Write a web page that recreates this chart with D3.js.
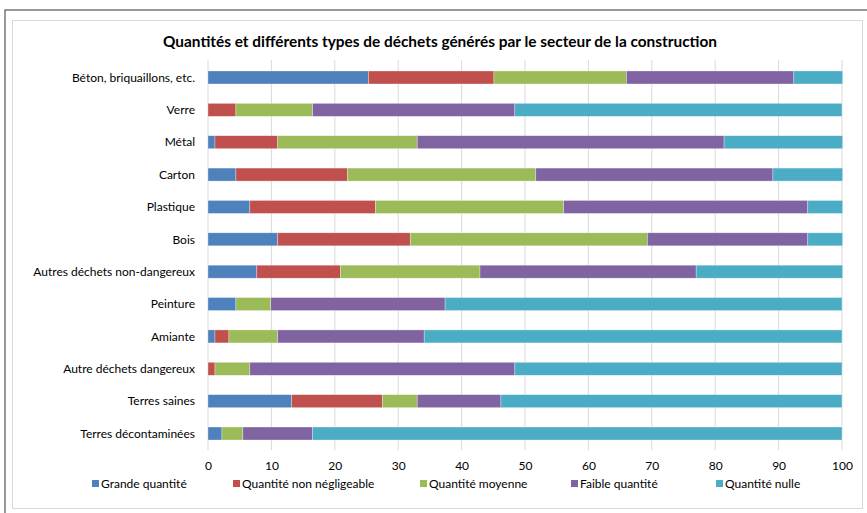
<!DOCTYPE html>
<html>
<head>
<meta charset="utf-8">
<script src="https://cdn.jsdelivr.net/npm/d3@7"></script>
<style>
  body { margin: 0; background: #fff; }
  svg { font-family: Lato, "Open Sans", sans-serif; }
</style>
</head>
<body>
<script>
// categories, top to bottom
var categories = ['Béton, briquaillons, etc.', 'Verre', 'Métal', 'Carton', 'Plastique', 'Bois',
  'Autres déchets non-dangereux', 'Peinture', 'Amiante', 'Autre déchets dangereux',
  'Terres saines', 'Terres décontaminées'];

var seriesNames = ['Grande quantité', 'Quantité non négligeable', 'Quantité moyenne', 'Faible quantité', 'Quantité nulle'];
var colors = ['#4F81BD', '#C0504D', '#9BBB59', '#8064A2', '#4BACC6'];

var grande     = [25.3, 0, 1.1, 4.4, 6.6, 11.0, 7.7, 4.4, 1.1, 0, 13.2, 2.2];
var nonNeglig  = [19.8, 4.4, 9.9, 17.6, 19.8, 20.9, 13.2, 0, 2.2, 1.1, 14.3, 0];
var moyenne    = [20.9, 12.1, 22.0, 29.7, 29.7, 37.4, 22.0, 5.5, 7.7, 5.5, 5.5, 3.3];
var faible     = [26.4, 31.9, 48.4, 37.4, 38.5, 25.3, 34.1, 27.5, 23.1, 41.8, 13.2, 11.0];
var nulle      = [7.7, 51.6, 18.7, 11.0, 5.5, 5.5, 23.1, 62.6, 65.9, 51.6, 53.8, 83.5];

var ticks = [0, 10, 20, 30, 40, 50, 60, 70, 80, 90, 100];

var W = 867, H = 513;
var svg = d3.select('body').append('svg').attr('width', W).attr('height', H);

// frames
svg.append('rect').attr('x', 5).attr('y', 10).attr('width', W + 10).attr('height', H)
  .attr('fill', 'none').attr('stroke', '#555').attr('stroke-width', 1.2);
svg.append('rect').attr('x', 12.5).attr('y', 20.5).attr('width', 850).attr('height', 488)
  .attr('fill', '#fff').attr('stroke', '#d9d9d9');

svg.append('text').attr('x', 440).attr('y', 47).attr('text-anchor', 'middle')
  .attr('font-size', 15.4).attr('font-weight', 'bold').attr('fill', '#000')
  .text('Quantités et différents types de déchets générés par le secteur de la construction');

var x = d3.scaleLinear().domain([0, 100]).range([208, 842]);
var y = d3.scaleBand().domain(categories).range([61.3, 449.7]).paddingInner(0.6).paddingOuter(0.3);

// gridlines
svg.append('g').selectAll('line').data(ticks).enter().append('line')
  .attr('x1', function (d) { return x(d); }).attr('x2', function (d) { return x(d); })
  .attr('y1', 60).attr('y2', 450)
  .attr('stroke', '#d9d9d9').attr('stroke-width', 1);

var rows = categories.map(function (c, i) {
  return { cat: c, v: [grande[i], nonNeglig[i], moyenne[i], faible[i], nulle[i]] };
});

var bars = svg.append('g');
rows.forEach(function (r) {
  var acc = 0;
  r.v.forEach(function (v, k) {
    if (v > 0) {
      bars.append('rect')
        .attr('x', x(acc)).attr('width', x(acc + v) - x(acc))
        .attr('y', y(r.cat) + (y.bandwidth() - 13) / 2).attr('height', 13)
        .attr('fill', colors[k])
        .attr('stroke', '#ffffff').attr('stroke-opacity', 0.5).attr('stroke-width', 0.6);
    }
    acc += v;
  });
});

// category labels
svg.append('g').selectAll('text').data(categories).enter().append('text')
  .attr('x', 195).attr('y', function (d) { return y(d) + y.bandwidth() / 2; })
  .attr('dy', '0.35em').attr('text-anchor', 'end').attr('font-size', 12).attr('fill', '#000')
  .text(function (d) { return d; });

// x axis
var xAxis = svg.append('g').attr('transform', 'translate(0,450)')
  .call(d3.axisBottom(x).tickValues(ticks).tickSize(0).tickPadding(11));
xAxis.select('.domain').remove();
xAxis.selectAll('text').attr('font-size', 12).attr('fill', '#000').attr('font-family', 'Lato, "Open Sans", sans-serif');

// legend
var legendX = [92, 233, 420, 571, 716];
var legend = svg.append('g').selectAll('g').data(seriesNames).enter().append('g')
  .attr('transform', function (d, i) { return 'translate(' + legendX[i] + ',484)'; });
legend.append('rect').attr('x', 0).attr('y', -4).attr('width', 7).attr('height', 7)
  .attr('fill', function (d, i) { return colors[i]; });
legend.append('text').attr('x', 9).attr('y', 0).attr('dy', '0.35em')
  .attr('font-size', 12).attr('fill', '#000').text(function (d) { return d; });
</script>
</body>
</html>
